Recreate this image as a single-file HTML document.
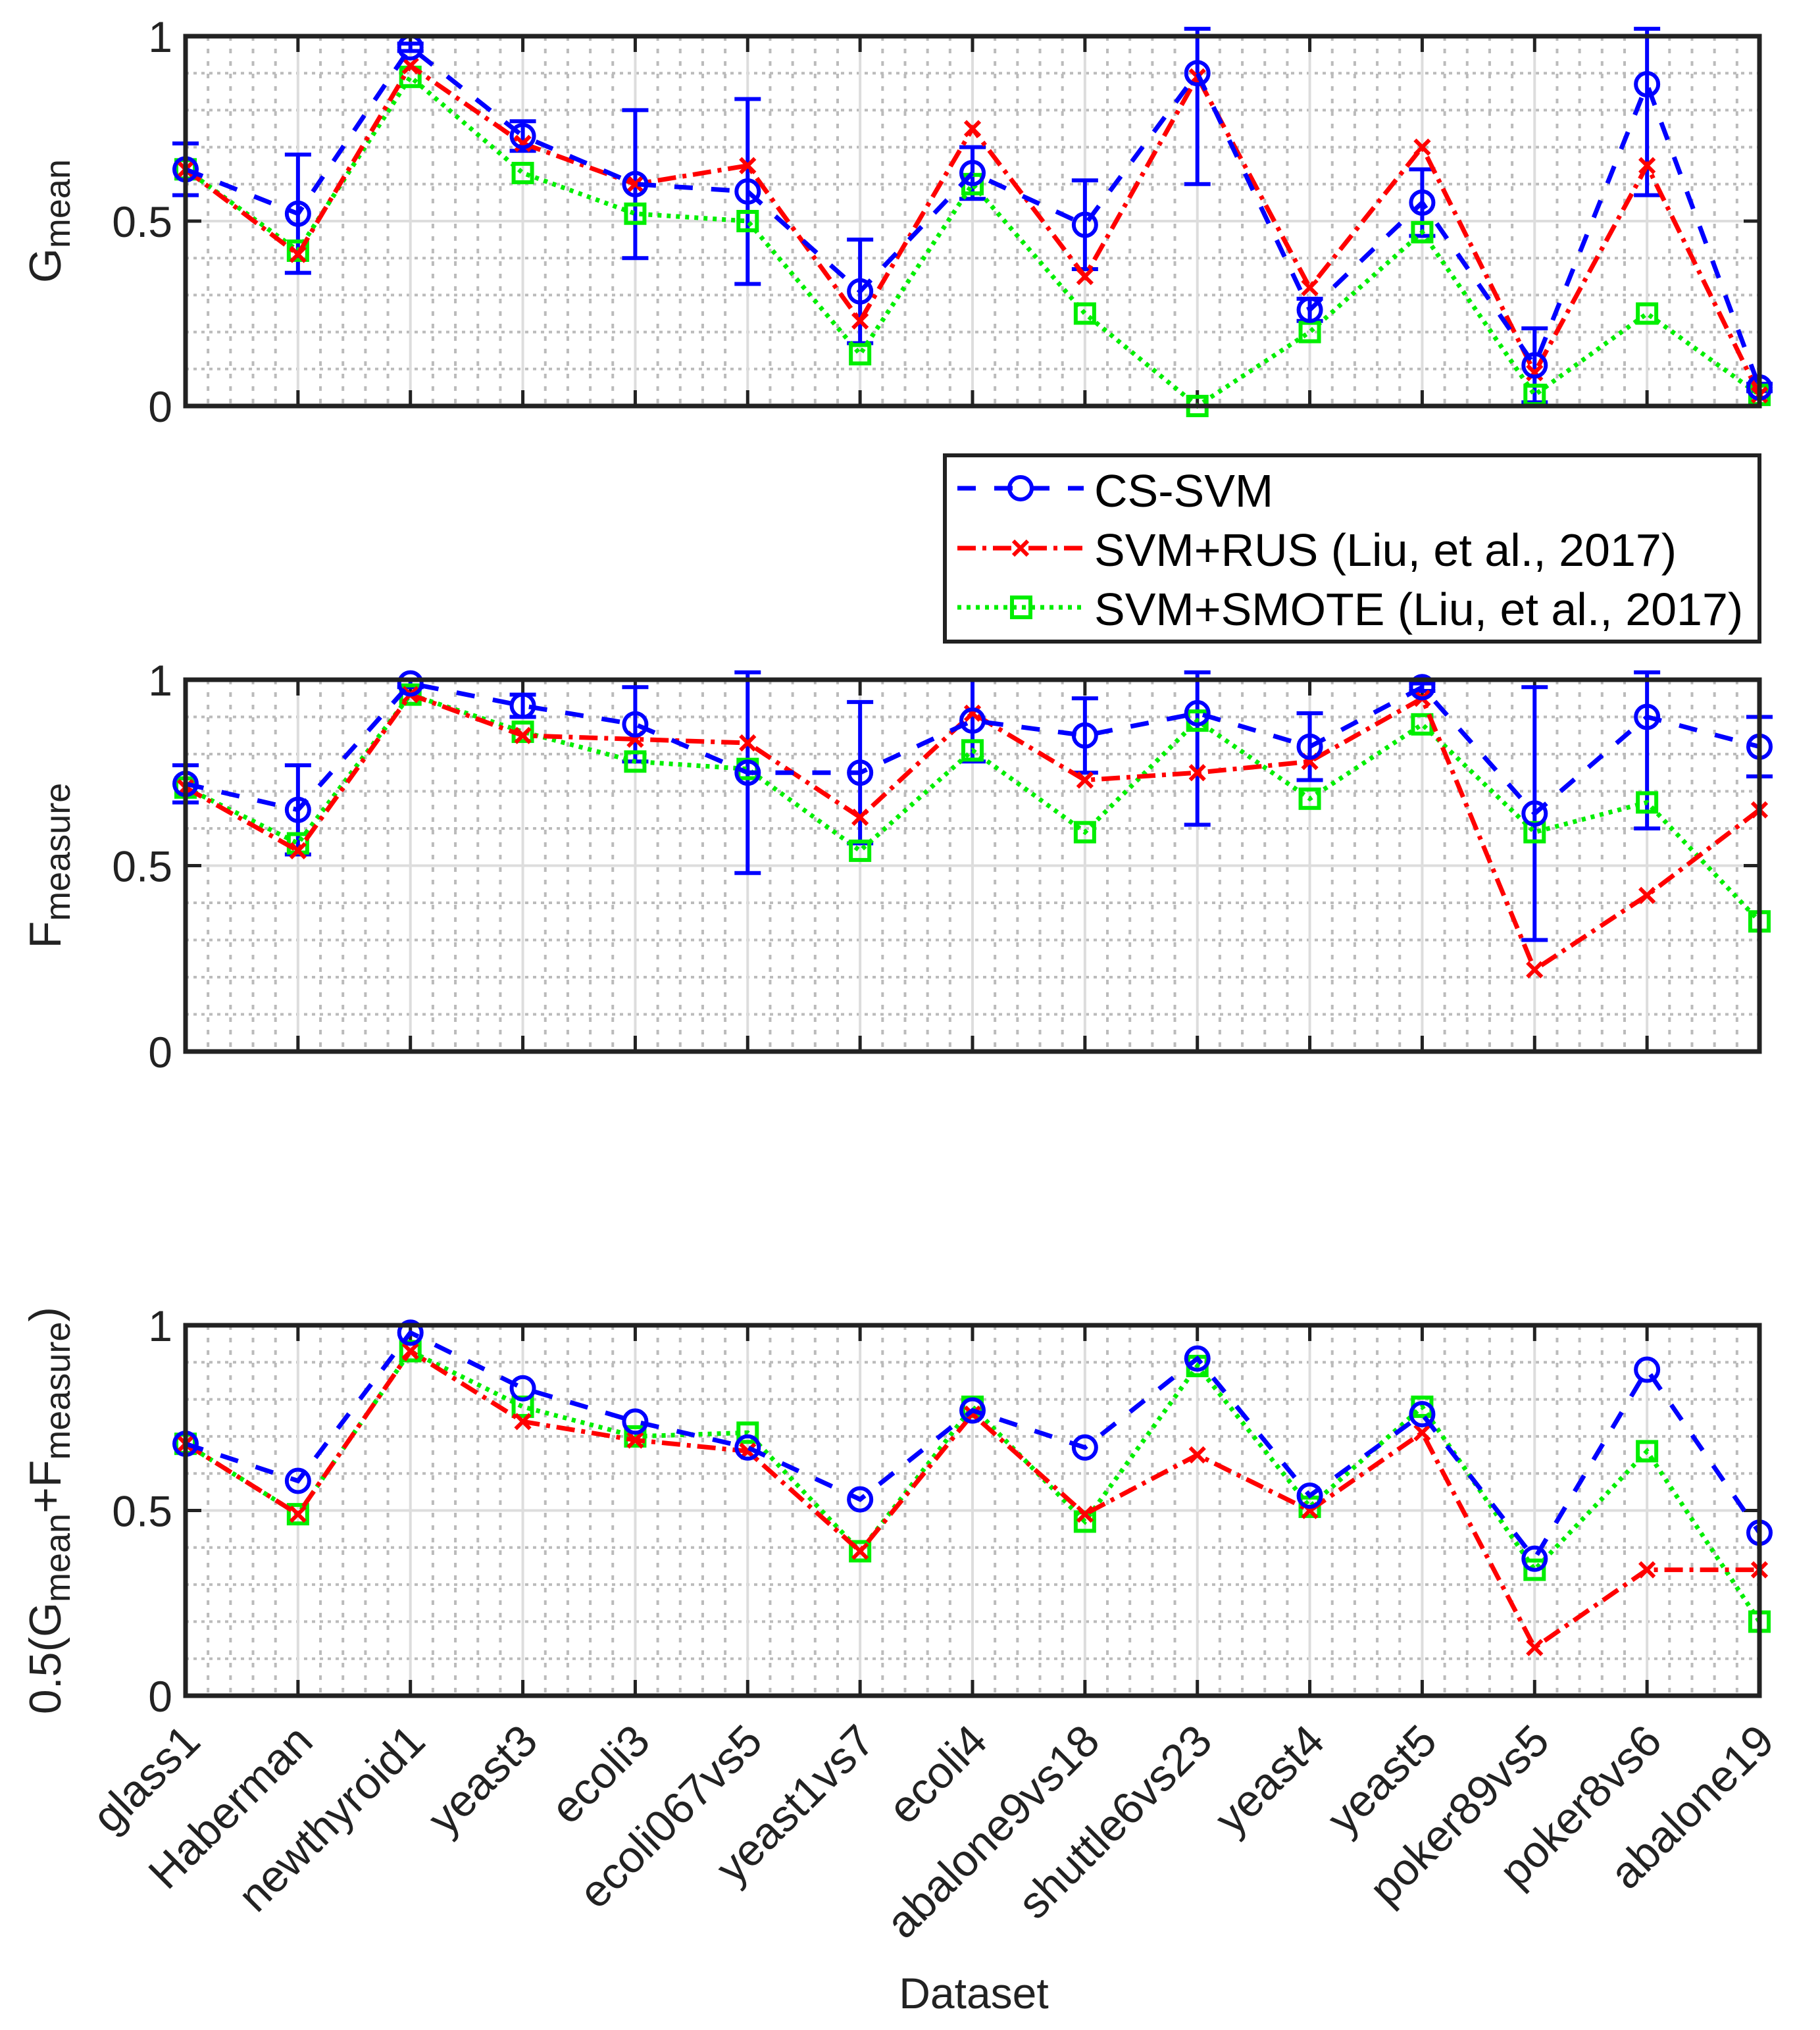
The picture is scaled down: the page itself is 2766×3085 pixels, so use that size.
<!DOCTYPE html>
<html><head><meta charset="utf-8"><style>
html,body{margin:0;padding:0;background:#fff;}
svg{display:block;font-family:"Liberation Sans",sans-serif;}
</style></head><body>
<svg id="chart" width="2766" height="3085" viewBox="0 0 2766 3085" xmlns="http://www.w3.org/2000/svg">
<rect width="2766" height="3085" fill="#fff"/>
<g id="g"></g>
<g>
<rect x="1436" y="692" width="1238" height="283" fill="#fff" stroke="#222" stroke-width="6"/>
<line x1="1455" y1="742" x2="1647" y2="742" stroke="#0000ff" stroke-width="7" stroke-dasharray="28,28"/>
<circle cx="1551" cy="742" r="17" fill="none" stroke="#0000ff" stroke-width="6"/>
<text x="1663" y="770" font-size="70">CS-SVM</text>
<line x1="1455" y1="833" x2="1647" y2="833" stroke="#ff0000" stroke-width="7" stroke-dasharray="28,10,6,10"/>
<path d="M1540 822 L1562 844 M1562 822 L1540 844" stroke="#ff0000" stroke-width="6"/>
<text x="1663" y="860" font-size="70">SVM+RUS (Liu, et al., 2017)</text>
<line x1="1455" y1="923" x2="1647" y2="923" stroke="#00ee00" stroke-width="7" stroke-dasharray="6,8"/>
<rect x="1538" y="908" width="28" height="30" fill="none" stroke="#00ee00" stroke-width="6"/>
<text x="1663" y="950" font-size="70">SVM+SMOTE (Liu, et al., 2017)</text>
</g>
</svg>
<script>
const categories=["glass1","Haberman","newthyroid1","yeast3","ecoli3","ecoli067vs5","yeast1vs7","ecoli4","abalone9vs18","shuttle6vs23","yeast4","yeast5","poker89vs5","poker8vs6","abalone19"];
const yTicks=[0,0.5,1];
const yTickLabels=["0","0.5","1"];
const gCS=[.64,.52,.97,.73,.60,.58,.31,.63,.49,.90,.26,.55,.11,.87,.05];
const gCSErr=[.07,.16,.01,.04,.20,.25,.14,.07,.12,.30,.03,.09,.10,.30,.01];
const gRUS=[.64,.41,.92,.71,.60,.65,.23,.75,.35,.89,.32,.70,.09,.65,.03];
const gSMOTE=[.64,.42,.89,.63,.52,.50,.14,.60,.25,0,.20,.47,.03,.25,.03];
const fCS=[.72,.65,.99,.93,.88,.75,.75,.89,.85,.91,.82,.98,.64,.90,.82];
const fCSErr=[.05,.12,.01,.03,.10,.27,.19,.11,.10,.30,.09,.01,.34,.30,.08];
const fRUS=[.71,.54,.96,.85,.84,.83,.63,.91,.73,.75,.78,.95,.22,.42,.65];
const fSMOTE=[.71,.56,.96,.86,.78,.76,.54,.81,.59,.89,.68,.88,.59,.67,.35];
const aCS=[.68,.58,.98,.83,.74,.67,.53,.77,.67,.91,.54,.76,.37,.88,.44];
const aRUS=[.68,.49,.93,.74,.69,.66,.39,.76,.49,.65,.50,.71,.13,.34,.34];
const aSMOTE=[.68,.49,.93,.78,.70,.71,.39,.78,.47,.89,.51,.78,.34,.66,.20];

const NS="http://www.w3.org/2000/svg";
const root=document.getElementById('g');
const X0=282,X1=2674;
function xs(i){return X0+(X1-X0)*i/(categories.length-1);}
function mk(tag,attrs,parent){const e=document.createElementNS(NS,tag);for(const k in attrs)e.setAttribute(k,attrs[k]);(parent||root).appendChild(e);return e;}

const panels=[
 {top:55,bot:617,cs:gCS,err:gCSErr,rus:gRUS,sm:gSMOTE,name:'gmean-panel',label:'g'},
 {top:1033,bot:1598,cs:fCS,err:fCSErr,rus:fRUS,sm:fSMOTE,name:'fmeasure-panel',label:'f'},
 {top:2014,bot:2577,cs:aCS,err:null,rus:aRUS,sm:aSMOTE,name:'average-panel',label:'a'}
];
panels.forEach((p,pi)=>{
 const g=mk('g',{});
 
 
 const ys=v=>p.bot-(p.bot-p.top)*v;
 for(let k=1;k<10;k++){if(k===5)continue;const y=ys(k/10);
  const l=mk('line',{x1:X0,x2:X1,y1:y,y2:y,stroke:'#bbb','stroke-width':4,'stroke-dasharray':'5,7'},g);
  
  }
 for(let i=0;i<categories.length-1;i++){for(let k=1;k<5;k++){const x=xs(i)+(xs(i+1)-xs(i))*k/5;
  const l=mk('line',{x1:x,x2:x,y1:p.top,y2:p.bot,stroke:'#bbb','stroke-width':4,'stroke-dasharray':'7,12'},g);
  
  }}
 categories.forEach((c,i)=>{const l=mk('line',{x1:xs(i),x2:xs(i),y1:p.top,y2:p.bot,stroke:'#ddd','stroke-width':4},g);
  
  
  const t1=mk('line',{x1:xs(i),x2:xs(i),y1:p.top,y2:p.top+24,stroke:'#222','stroke-width':5},g);
  
  
  const t2=mk('line',{x1:xs(i),x2:xs(i),y1:p.bot,y2:p.bot-24,stroke:'#222','stroke-width':5},g);
  
  });
 yTicks.forEach((v,k)=>{const y=ys(v);
  if(v>0&&v<1){const l=mk('line',{x1:X0,x2:X1,y1:y,y2:y,stroke:'#ddd','stroke-width':4},g);
   
   
   const t=mk('path',{d:`M${X0} ${y}h24M${X1} ${y}h-24`,stroke:'#222','stroke-width':5},g);
   
   }
  const tx=mk('text',{x:262,y:y+24,'font-size':66,'text-anchor':'end',fill:'#222'},g);
  tx.textContent=yTickLabels[k];
  
  });
 if(p.err){p.cs.forEach((v,i)=>{const x=xs(i);const a=ys(Math.min(v+p.err[i],1.02)),b=ys(Math.max(v-p.err[i],0));
  const e=mk('path',{d:`M${x} ${a}V${b}M${x-20} ${a}h40M${x-20} ${b}h40`,stroke:'#0000ff','stroke-width':6,fill:'none'},g);
  
  });}
 const series=[
  {d:p.sm,c:'#00ee00',dash:'6,8',m:'sq',n:'svm-smote'},
  {d:p.rus,c:'#ff0000',dash:'28,10,6,10',m:'x',n:'svm-rus'},
  {d:p.cs,c:'#0000ff',dash:'28,28',m:'o',n:'cs-svm'}];
 series.forEach(s=>{
  const pts=s.d.map((v,i)=>xs(i)+','+ys(v)).join(' ');
  const pl=mk('polyline',{points:pts,fill:'none',stroke:s.c,'stroke-width':7,'stroke-dasharray':s.dash},g);
  
  
  s.d.forEach((v,i)=>{const x=xs(i),y=ys(v);let m;
   if(s.m==='o')m=mk('circle',{cx:x,cy:y,r:17,fill:'none',stroke:s.c,'stroke-width':6},g);
   else if(s.m==='x')m=mk('path',{d:`M${x-11} ${y-11}L${x+11} ${y+11}M${x+11} ${y-11}L${x-11} ${y+11}`,stroke:s.c,'stroke-width':6},g);
   else m=mk('rect',{x:x-14,y:y-14,width:28,height:28,fill:'none',stroke:s.c,'stroke-width':6},g);
   
   });
 });
 const fr=mk('rect',{x:X0,y:p.top,width:X1-X0,height:p.bot-p.top,fill:'none',stroke:'#222','stroke-width':7},g);
 
 
 const cy=(p.top+p.bot)/2;
 const yl=mk('text',{transform:`translate(92,${cy}) rotate(-90)`,'text-anchor':'middle','font-size':68,fill:'#222'},g);
 
 
 if(p.label==='g')yl.innerHTML='G<tspan font-size="54" dy="14">mean</tspan>';
 else if(p.label==='f')yl.innerHTML='F<tspan font-size="54" dy="14">measure</tspan>';
 else yl.innerHTML='0.5(G<tspan font-size="54" dy="14">mean</tspan><tspan dy="-14">+F</tspan><tspan font-size="54" dy="14">measure</tspan><tspan dy="-14">)</tspan>';
});
categories.forEach((c,i)=>{const t=mk('text',{transform:`translate(${xs(i)+26},2650) rotate(-45)`,'text-anchor':'end','font-size':68,fill:'#222'});
 t.textContent=c;
 
 });
const xt=mk('text',{x:1480,y:3052,'text-anchor':'middle','font-size':66,fill:'#222'});
xt.textContent='Dataset';


</script>
</body></html>
